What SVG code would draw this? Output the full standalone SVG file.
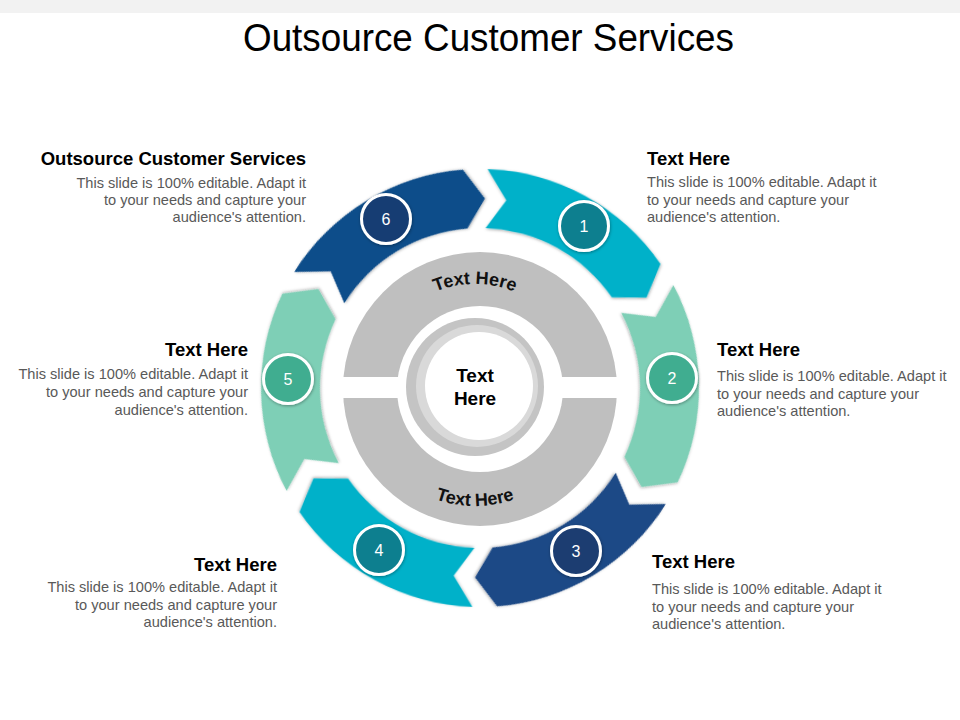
<svg xmlns="http://www.w3.org/2000/svg" width="960" height="720" viewBox="0 0 960 720">
<style>
.title{font-family:"Liberation Sans",Arial,sans-serif;font-size:39px;fill:#000}
.hd{font-family:"Liberation Sans",Arial,sans-serif;font-size:18.5px;font-weight:bold;fill:#000}
.bd{font-family:"Liberation Sans",Arial,sans-serif;font-size:14.6px;fill:#595959}
.num{font-family:"Liberation Sans",Arial,sans-serif;font-size:16px;fill:#fff;text-anchor:middle}
.arc{font-family:"Liberation Sans",Arial,sans-serif;font-size:18px;font-weight:bold;fill:#111}
.ctr{font-family:"Liberation Sans",Arial,sans-serif;font-size:19px;font-weight:bold;fill:#000;text-anchor:middle}
.badge{stroke:#fff;stroke-width:3}
.end{text-anchor:end}
</style>
<defs>
<filter id="sh" x="-20%" y="-20%" width="140%" height="140%">
<feDropShadow dx="0.5" dy="1" stdDeviation="1.5" flood-color="#000" flood-opacity="0.35"/>
</filter>
<path id="seg" d="M0,-219 A219,219 0 0 1 176.05,-130.27 L163.28,-96.18 L128.62,-95.17 A160,160 0 0 0 0,-160 L19.81,-188.46 Z"/>
<path id="arcTop" d="M384.9,336 A104,104 0 0 1 565.1,336"/>
<path id="arcBot" d="M372.8,447 A118,118 0 0 0 577.2,447"/>
</defs>
<rect x="0" y="0" width="960" height="13" fill="#f2f2f2"/>
<text class="title" x="488.5" y="51" text-anchor="middle" textLength="491" lengthAdjust="spacingAndGlyphs">Outsource Customer Services</text>

<g id="hub">
<circle cx="480" cy="389" r="137" fill="#bfbfbf"/>
<circle cx="480" cy="389" r="83" fill="#fff"/>
<rect x="338" y="377" width="284" height="21" fill="#fff"/>
<circle cx="475" cy="387" r="69" fill="#c4c4c4"/>
<circle cx="477" cy="386" r="61" fill="#d9d9d9"/>
<circle cx="479" cy="386" r="54" fill="#fff"/>
<text class="arc"><textPath href="#arcTop" startOffset="50%" text-anchor="middle">Text Here</textPath></text>
<text class="arc"><textPath href="#arcBot" startOffset="50%" text-anchor="middle">Text Here</textPath></text>
<text class="ctr" x="475" y="382">Text</text>
<text class="ctr" x="475" y="405">Here</text>
</g>

<g id="stage1">
<use href="#seg" fill="#00b1c9" filter="url(#sh)" transform="translate(480 388) rotate(2)"/>
<circle class="badge" cx="584" cy="226" r="24.5" fill="#0f7f8f" filter="url(#sh)"/>
<text class="num" x="584" y="232">1</text>
<text class="hd" x="647" y="165">Text Here</text>
<text class="bd" x="647" y="187">This slide is 100% editable. Adapt it</text>
<text class="bd" x="647" y="205">to your needs and capture your</text>
<text class="bd" x="647" y="222">audience's attention.</text>
</g>

<g id="stage2">
<use href="#seg" fill="#7ecfb6" filter="url(#sh)" transform="translate(480 388) rotate(62)"/>
<circle class="badge" cx="672" cy="378" r="24.5" fill="#41ad90" filter="url(#sh)"/>
<text class="num" x="672" y="384">2</text>
<text class="hd" x="717" y="356">Text Here</text>
<text class="bd" x="717" y="381">This slide is 100% editable. Adapt it</text>
<text class="bd" x="717" y="399">to your needs and capture your</text>
<text class="bd" x="717" y="416">audience's attention.</text>
</g>

<g id="stage3">
<use href="#seg" fill="#1f4a86" filter="url(#sh)" transform="translate(480 388) rotate(122)"/>
<circle class="badge" cx="576" cy="551" r="24.5" fill="#1b3d71" filter="url(#sh)"/>
<text class="num" x="576" y="557">3</text>
<text class="hd" x="652" y="568">Text Here</text>
<text class="bd" x="652" y="594">This slide is 100% editable. Adapt it</text>
<text class="bd" x="652" y="612">to your needs and capture your</text>
<text class="bd" x="652" y="629">audience's attention.</text>
</g>

<g id="stage4">
<use href="#seg" fill="#00b1c9" filter="url(#sh)" transform="translate(480 388) rotate(182)"/>
<circle class="badge" cx="379" cy="550" r="24.5" fill="#0f7f8f" filter="url(#sh)"/>
<text class="num" x="379" y="556">4</text>
<text class="hd end" x="277" y="571">Text Here</text>
<text class="bd end" x="277" y="592">This slide is 100% editable. Adapt it</text>
<text class="bd end" x="277" y="610">to your needs and capture your</text>
<text class="bd end" x="277" y="627">audience's attention.</text>
</g>

<g id="stage5">
<use href="#seg" fill="#7ecfb6" filter="url(#sh)" transform="translate(480 388) rotate(242)"/>
<circle class="badge" cx="288" cy="379" r="24.5" fill="#41ad90" filter="url(#sh)"/>
<text class="num" x="288" y="385">5</text>
<text class="hd end" x="248" y="356">Text Here</text>
<text class="bd end" x="248" y="379">This slide is 100% editable. Adapt it</text>
<text class="bd end" x="248" y="397">to your needs and capture your</text>
<text class="bd end" x="248" y="415">audience's attention.</text>
</g>

<g id="stage6">
<use href="#seg" fill="#114d8a" filter="url(#sh)" transform="translate(480 388) rotate(302)"/>
<circle class="badge" cx="386" cy="219" r="24.5" fill="#163e73" filter="url(#sh)"/>
<text class="num" x="386" y="225">6</text>
<text class="hd end" x="306" y="165">Outsource Customer Services</text>
<text class="bd end" x="306" y="188">This slide is 100% editable. Adapt it</text>
<text class="bd end" x="306" y="205">to your needs and capture your</text>
<text class="bd end" x="306" y="222">audience's attention.</text>
</g>

<g id="connectors"></g>
</svg>
